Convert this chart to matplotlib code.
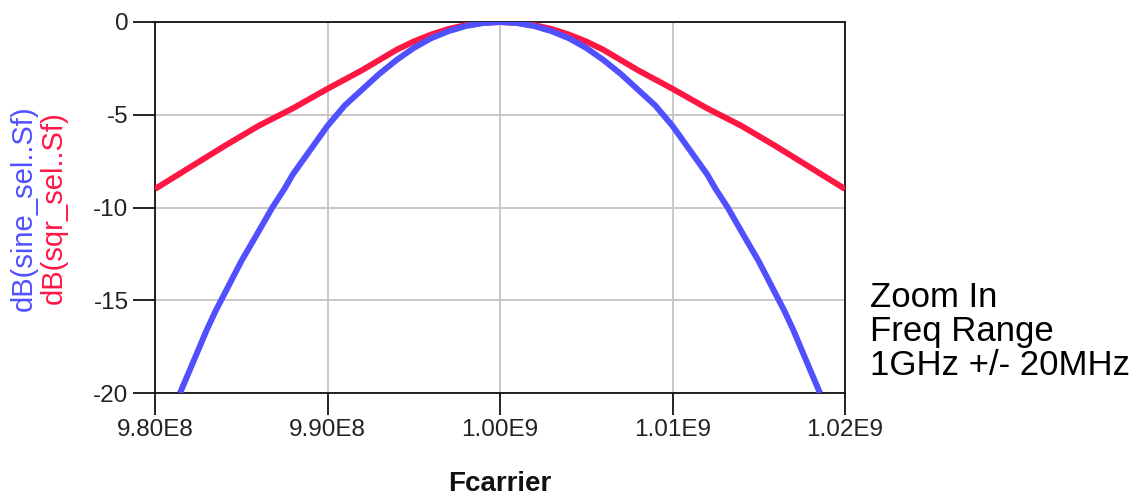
import numpy as np
import matplotlib as mpl
mpl.use('agg')
import matplotlib.pyplot as plt

# offsets from the 1 GHz carrier, MHz
sine_offset = [-18.55, -18.0, -17.5, -17.0, -16.5, -16.0, -15.5, -15.0, -14.5, -14.0, -13.2, -12.5,
               -12.0, -11.0, -10.0, -9.0, -8.0, -7.0, -6.0, -5.0, -4.0, -3.0, -2.0, -1.0, 0.0,
               1.0, 2.0, 3.0, 4.0, 5.0, 6.0, 7.0, 8.0, 9.0, 10.0, 11.0, 12.0, 12.5, 13.2,
               14.0, 14.5, 15.0, 15.5, 16.0, 16.5, 17.0, 17.5, 18.0, 18.55]
sine_db = [-20.0, -18.8, -17.7, -16.6, -15.6, -14.7, -13.8, -12.9, -12.1, -11.3, -10.0, -9.0,
           -8.2, -6.9, -5.6, -4.5, -3.65, -2.8, -2.05, -1.4, -0.88, -0.5, -0.22, -0.06, 0.0,
           -0.06, -0.22, -0.5, -0.88, -1.4, -2.05, -2.8, -3.65, -4.5, -5.6, -6.9, -8.2, -9.0, -10.0,
           -11.3, -12.1, -12.9, -13.8, -14.7, -15.6, -16.6, -17.7, -18.8, -20.0]

sqr_offset = [-20.0, -18.0, -16.0, -14.0, -12.0, -10.0, -8.0, -7.0, -6.0, -5.0, -4.0, -3.0, -2.0, -1.0, 0.0,
              1.0, 2.0, 3.0, 4.0, 5.0, 6.0, 7.0, 8.0, 10.0, 12.0, 14.0, 16.0, 18.0, 20.0]
sqr_db = [-9.0, -7.85, -6.7, -5.6, -4.65, -3.6, -2.6, -2.05, -1.5, -1.05, -0.68, -0.38, -0.17, -0.04, 0.0,
          -0.04, -0.17, -0.38, -0.68, -1.05, -1.5, -2.05, -2.6, -3.6, -4.65, -5.6, -6.7, -7.85, -9.0]

xticks = [9.80e8, 9.90e8, 1.00e9, 1.01e9, 1.02e9]
xtick_labels = ['9.80E8', '9.90E8', '1.00E9', '1.01E9', '1.02E9']
yticks = [0, -5, -10, -15, -20]

note_lines = ['Zoom In', 'Freq Range', '1GHz +/- 20MHz']

BLUE = '#5050FF'
RED = '#FF1744'

plt.rcParams['font.family'] = ['Liberation Sans', 'DejaVu Sans']
plt.rcParams['axes.unicode_minus'] = False

fig = plt.figure(figsize=(11.45, 4.99), dpi=100)
ax = fig.add_axes([155/1145, 1 - 393/499, 690/1145, 371/499])

f_sine = 1e9 + np.array(sine_offset) * 1e6
f_sqr = 1e9 + np.array(sqr_offset) * 1e6
ax.plot(f_sqr, sqr_db, color=RED, lw=4.3, solid_capstyle='butt', zorder=3)
ax.plot(f_sine, sine_db, color=BLUE, lw=4.3, solid_capstyle='butt', zorder=4)

ax.set_xlim(9.80e8, 1.02e9)
ax.set_ylim(-20, 0)
ax.set_xticks(xticks)
ax.set_xticklabels(xtick_labels, fontsize=17.5, color='#222222')
ax.set_yticks(yticks)
ax.set_yticklabels([str(v) for v in yticks], fontsize=17.5, color='#222222')
ax.tick_params(direction='out', length=16, width=1.3, color='#111111', pad=3)
ax.grid(True, color='#C4C4C4', lw=1.3)
ax.set_axisbelow(True)
for s in ax.spines.values():
    s.set_color('#111111')
    s.set_linewidth(1.3)

fig.text(500/1145, 1 - 484/499, 'Fcarrier', ha='center', va='center',
         fontsize=20, fontweight='bold', color='#111111')

fig.text(24/1145, 1 - 208/499, 'dB(sine_sel..Sf)', rotation=90, ha='center', va='center',
         fontsize=21, color=BLUE)
fig.text(54/1145, 1 - 208/499, 'dB(sqr_sel..Sf)', rotation=90, ha='center', va='center',
         fontsize=21, color=RED)

for i, line in enumerate(note_lines):
    fig.text(870/1145, 1 - (306.7 + 34.2*i)/499, line, ha='left', va='baseline',
             fontsize=25, color='black')

fig.savefig('out.png', dpi=100)
